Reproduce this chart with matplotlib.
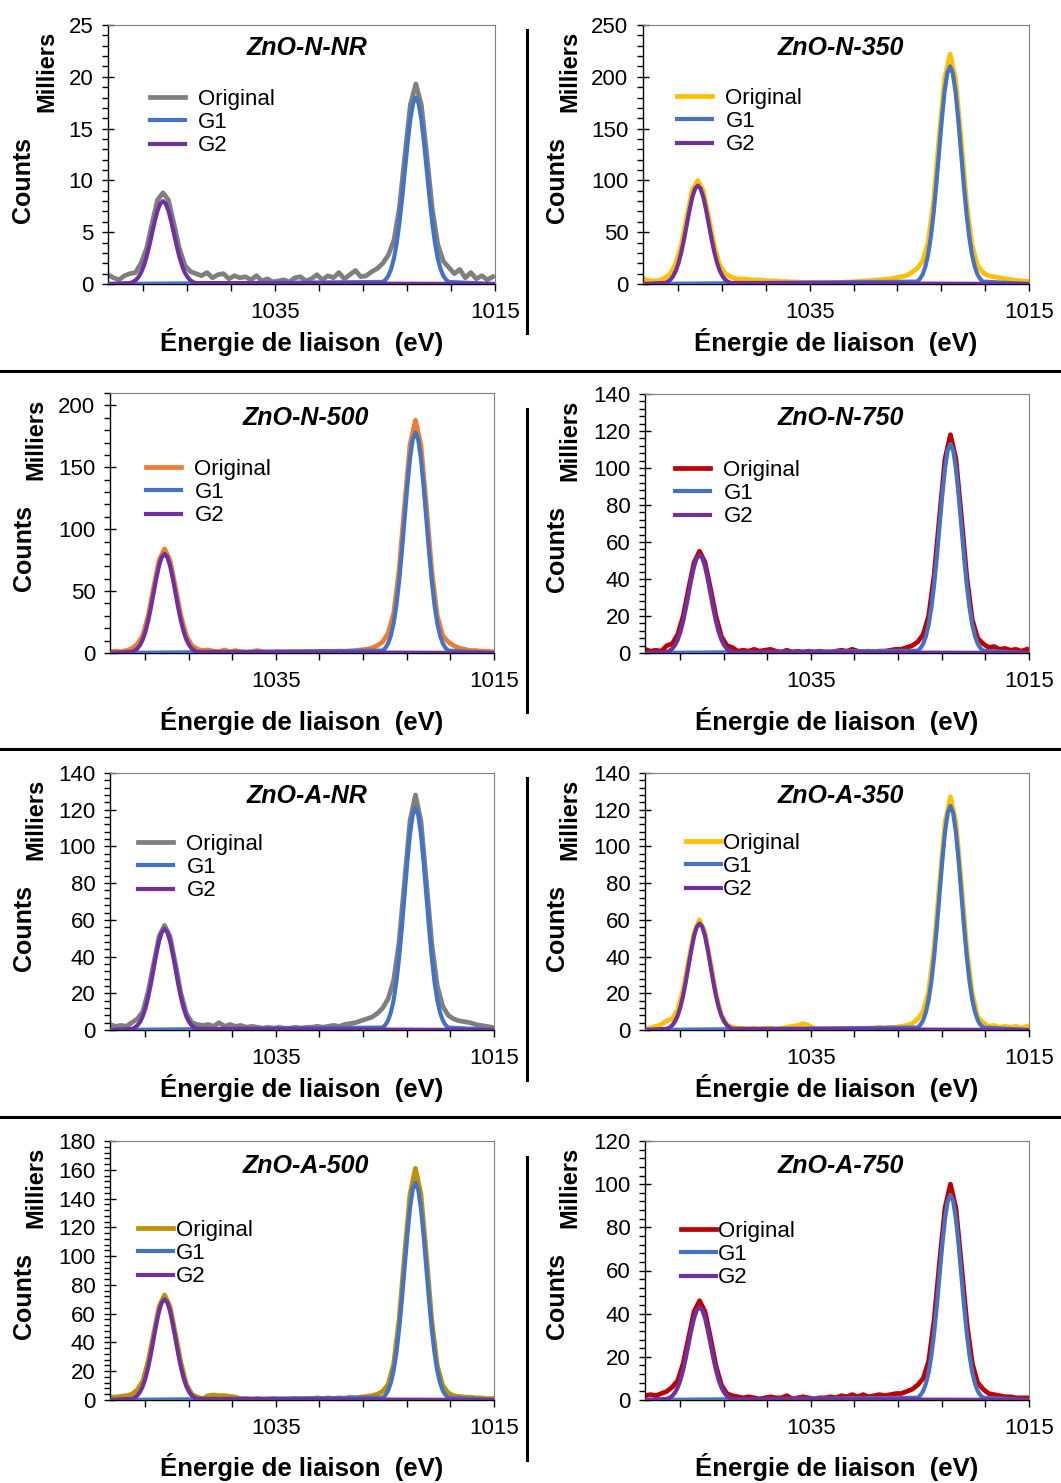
import matplotlib
matplotlib.use("Agg")
import matplotlib.pyplot as plt
from matplotlib.lines import Line2D
import numpy as np

plt.rcParams["font.family"] = ["Liberation Sans", "DejaVu Sans"]

W, H = 1061, 1483

# binding energy grid of the measured spectra (eV), 0.5 eV step
energy = np.round(np.arange(1050.2, 1015.0, -0.5), 1)

# fitted gaussian components: offsets from peak centre and normalised shape
fit_offsets = np.arange(-3.0, 3.001, 0.25)
fit_shape = [0.011, 0.023, 0.044, 0.080, 0.135, 0.216, 0.325, 0.458, 0.607,
             0.755, 0.883, 0.969, 1.000, 0.969, 0.883, 0.755, 0.607, 0.458,
             0.325, 0.216, 0.135, 0.080, 0.044, 0.023, 0.011]
g1_centre = 1022.2
g2_centre = 1045.2

names = ["ZnO-N-NR", "ZnO-N-350", "ZnO-N-500", "ZnO-N-750",
         "ZnO-A-NR", "ZnO-A-350", "ZnO-A-500", "ZnO-A-750"]

# peak heights of the fits (milliers de counts)
g1_height = [18.0, 210, 178, 113, 121, 122, 151, 95]
g2_height = [8.0, 95, 80, 53, 55, 58, 70, 43]

# original spectra (milliers de counts)
orig_n_nr = [0.9, 0.6, 0.4, 0.8, 1.0, 1.1, 2.0, 3.4, 5.8, 8.1, 8.8, 8.1, 5.8, 3.4, 1.8, 1.2, 1.0,
             0.8, 1.1, 0.6, 0.9, 1.0, 0.5, 0.8, 0.6, 0.7, 0.4, 0.8, 0.3, 0.5, 0.2, 0.3, 0.4, 0.2,
             0.6, 0.7, 0.3, 0.5, 0.9, 0.4, 0.8, 0.6, 1.1, 0.5, 0.9, 1.3, 0.7, 0.8, 1.2, 1.5,
             2.0, 2.8, 4.2, 7.3, 12.4, 17.3, 19.3, 17.3, 12.4, 7.2, 3.8, 2.2, 1.6,
             1.0, 1.4, 0.6, 1.1, 0.5, 0.8, 0.4, 0.7]
orig_n_350 = [5, 3.5, 3, 3.5, 6, 10, 20, 38, 65, 91, 100, 90, 64, 37, 18, 10, 7,
              5, 5, 4.5, 4, 4, 3.5, 3, 3, 2.5, 2.5, 2, 2, 1.5, 1.5, 1.5, 1, 1,
              1, 1.5, 1.5, 2, 2, 2.5, 3, 3, 3.5, 4, 4.5, 5, 6, 7, 8, 11,
              15, 22, 40, 80, 142, 198, 222, 198, 141, 79, 38, 18, 11,
              8, 7, 6, 5, 4.5, 3.5, 3, 2.5]
orig_n_500 = [1, 1.5, 1, 2, 3.5, 7, 14, 30, 53, 75, 84, 75, 53, 30, 14, 6, 3,
              2, 2.5, 1.5, 1, 2.5, 1, 2, 1, 0.5, 1, 2, 1, 0.5, 0.5, 1, 0.5, 1,
              0.5, 0.5, 1, 0.5, 0.5, 1, 0.5, 1, 1.5, 1, 1.5, 2, 2.5, 3, 4, 6,
              9, 16, 32, 67, 119, 168, 188, 168, 119, 66, 30, 14, 9,
              6, 4, 3, 2, 2, 1.5, 1.5, 1]
orig_n_750 = [2, 1, 1.5, 1, 4, 5, 10, 20, 35, 49, 55, 49, 35, 20, 9, 4, 3,
              1, 1.5, 1, 2, 1, 1.5, 2, 1, 0.5, 1.5, 0.5, 1, 0.5, 1, 0.5, 1, 0.5,
              0.5, 1, 1.5, 1, 2, 1, 0.5, 1, 0.5, 1, 1, 1.5, 2, 2, 3, 4,
              6, 10, 20, 42, 74, 105, 118, 105, 74, 41, 18, 8, 5,
              3, 3.5, 2, 2.5, 1.5, 2, 1, 2]
orig_a_nr = [3, 2, 2.5, 2, 4, 6, 10, 21, 36, 51, 57, 51, 36, 20, 9, 4, 3,
             2.5, 3, 2, 4, 2, 3, 2, 2.5, 1.5, 2, 1.5, 1, 1.5, 1, 1.5, 1, 1,
             1.5, 1, 1.5, 1.5, 2, 1.5, 2, 2.5, 2, 3, 3.5, 4, 5, 6, 7, 9,
             12, 17, 27, 48, 81, 114, 128, 114, 81, 47, 24, 13, 8,
             6, 5, 4.5, 4, 3, 2.5, 2, 1.5]
orig_a_350 = [0.5, 1, 2, 3, 5, 6, 11, 22, 38, 53, 60, 53, 37, 20, 8, 3, 1.5,
              1, 1, 0.5, 1, 0.5, 1, 1, 0.5, 1, 1.5, 2, 2.5, 3.5, 2.5, 1, 0.5, 0.5,
              0.5, 0.5, 1, 0.5, 0.5, 1, 0.5, 1, 1, 1.5, 1, 1.5, 1.5, 2, 2.5, 3.5,
              6, 10, 21, 45, 80, 113, 127, 113, 80, 44, 20, 7, 4,
              2, 2.5, 1.5, 2, 1.5, 2, 1, 2]
orig_a_500 = [2, 2, 2.5, 3, 4, 7, 13, 27, 46, 65, 73, 65, 46, 26, 11, 4, 2,
              1, 3, 3.5, 3, 3, 2.5, 2, 1, 1, 0.5, 1, 0.5, 0.5, 1, 0.5, 0.5, 0.5,
              1, 0.5, 0.5, 1, 1.5, 1, 1.5, 1, 1.5, 1, 2, 1.5, 2, 2.5, 3, 4,
              6, 11, 25, 56, 101, 143, 161, 143, 101, 55, 24, 10, 5,
              3, 2.5, 2, 2, 1.5, 1.5, 1, 1]
orig_a_750 = [2, 2.5, 2, 3, 4, 6, 9, 17, 29, 41, 46, 41, 29, 16, 7, 3, 2,
              1.5, 1, 1.5, 1, 0.5, 1, 1.5, 1, 1, 2, 0.5, 1, 1.5, 1, 0.5, 1, 1,
              1.5, 1, 2, 1.5, 2.5, 1.5, 2.5, 1.5, 2, 2.5, 2, 2.5, 3, 3, 4, 5,
              7, 10, 18, 37, 64, 89, 100, 89, 63, 36, 17, 8, 5,
              3, 2.5, 2, 1.5, 1.5, 1, 1, 1]
originals = [orig_n_nr, orig_n_350, orig_n_500, orig_n_750,
             orig_a_nr, orig_a_350, orig_a_500, orig_a_750]

orig_colors = ["#7f7f7f", "#FFC000", "#ED7D31", "#C00000",
               "#7f7f7f", "#FFC000", "#BF9000", "#C00000"]
g1_color = "#4472C4"
g2_color = "#7030A0"

y_max = [25, 250, 210, 140, 140, 140, 180, 120]
y_major = [5, 50, 50, 20, 20, 20, 20, 20]
y_minor = [1, 10, 10, 4, 4, 4, 4, 4]

x_ticks = [1047, 1043, 1039, 1035, 1031, 1027, 1023, 1019, 1015]
x_ticklabels = ["", "", "", "1035", "", "", "", "", "1015"]

# layout in pixels: axes (left, right, top, bottom)
boxes = [(108, 495, 25, 284), (643, 1029, 25, 284),
         (110, 494, 393, 653), (645, 1029, 394, 653),
         (110, 494, 773, 1030), (645, 1029, 773, 1030),
         (110, 494, 1141, 1400), (645, 1029, 1141, 1400)]
title_pos = [(307, 48), (841, 48), (306, 418), (841, 418),
             (307, 796), (841, 796), (306, 1166), (841, 1166)]
xlabel_y = [342, 342, 721, 721, 1088, 1088, 1467, 1467]
milliers_x = [47, 570, 36, 570, 36, 570, 36, 570]
counts_x = [23, 557, 24, 557, 24, 557, 24, 557]
# legend: left of handle, centre of first row, gap between handle and text
legend_pos = [(150, 98, 0.58), (677, 97, 0.6), (146, 468, 0.6), (675, 469, 0.6),
              (138, 843, 0.6), (686, 842, 0.1), (138, 1229, 0.12), (681, 1230, 0.1)]


def fx(px):
    return px / W


def fy(py):
    return 1 - py / H


fig = plt.figure(figsize=(W / 100, H / 100), dpi=100)

for i in range(8):
    l, r, t, b = boxes[i]
    ax = fig.add_axes([fx(l), fy(b), (r - l) / W, (b - t) / H])

    ax.plot(energy, originals[i], color=orig_colors[i], lw=3.4, label="Original",
            solid_capstyle="projecting", zorder=2)
    for centre, height, col, lab, z in [(g1_centre, g1_height[i], g1_color, "G1", 3),
                                        (g2_centre, g2_height[i], g2_color, "G2", 4)]:
        xs = np.concatenate([[1050.2], centre - fit_offsets, [1015.0]])
        ys = np.concatenate([[0], height * np.array(fit_shape), [0]])
        ax.plot(xs, ys, color=col, lw=3.0, label=lab, zorder=z)

    ax.set_xlim(1050.2, 1015)
    ax.set_ylim(0, y_max[i])
    ax.set_xticks(x_ticks)
    ax.set_xticklabels(x_ticklabels)
    ax.set_yticks(np.arange(0, y_max[i] + 0.1, y_major[i]))
    ax.set_yticks(np.arange(0, y_max[i] + 0.1, y_minor[i]), minor=True)
    ax.tick_params(axis="y", which="major", direction="inout", length=9, width=1,
                   labelsize=16, pad=6)
    ax.tick_params(axis="y", which="minor", direction="out", length=4, width=1)
    ax.tick_params(axis="x", which="major", direction="out", length=5, width=1,
                   labelsize=16, pad=8)
    for side in ["top", "right"]:
        ax.spines[side].set_color("#7f7f7f")
        ax.spines[side].set_linewidth(0.8)
    for side in ["left", "bottom"]:
        ax.spines[side].set_linewidth(1.0)

    tx, ty = title_pos[i]
    fig.text(fx(tx), fy(ty), names[i], ha="center", va="center", fontsize=18,
             fontweight="bold", fontstyle="italic")
    fig.text(fx((l + r) / 2), fy(xlabel_y[i]), "Énergie de liaison  (eV)",
             ha="center", va="center", fontsize=18.5, fontweight="bold")
    fig.text(fx(milliers_x[i]), fy(t + 46), "Milliers", rotation=90,
             ha="center", va="center", fontsize=17, fontweight="bold")
    fig.text(fx(counts_x[i]), fy(t + 155), "Counts", rotation=90,
             ha="center", va="center", fontsize=18, fontweight="bold")

    lx, ly, gap = legend_pos[i]
    ax.legend(loc="upper left", bbox_to_anchor=(fx(lx), fy(ly - 9)),
              bbox_transform=fig.transFigure, frameon=False, fontsize=16,
              borderpad=0, borderaxespad=0, handlelength=1.58,
              handletextpad=gap, labelspacing=0.1)

# separators between the panels
for y in [371, 749, 1117]:
    fig.add_artist(Line2D([0, 1], [fy(y), fy(y)], color="black", lw=2.2,
                          transform=fig.transFigure))
for y0, y1 in [(30, 333), (409, 712), (778, 1080), (1157, 1460)]:
    fig.add_artist(Line2D([fx(527), fx(527)], [fy(y0), fy(y1)], color="black",
                          lw=2.2, transform=fig.transFigure))

fig.savefig("out.png", dpi=100)
